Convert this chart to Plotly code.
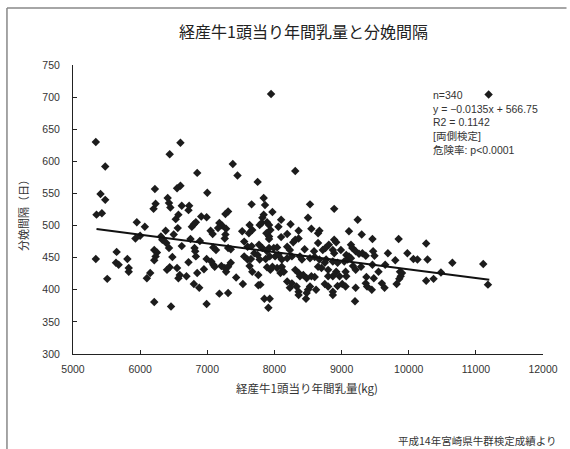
import plotly.graph_objects as go

# --- data ---
milk_kg = [
    5340, 6440, 6600, 5480, 5410, 5480, 5350, 5430, 5340, 5510, 5650, 5640, 5680, 5810, 5830, 5830,
    5950, 6070, 5930, 6000, 6100, 6150, 6220, 6230, 6200, 6210, 6250, 6230, 6210, 6210, 6310, 6330,
    6380, 6410, 6430, 6450, 6390, 6430, 6480, 6400, 6440, 6460, 6500, 6530, 6560, 6550, 6550,
    7380, 6850, 7450, 7750, 6600, 7000, 7840, 7860, 7660, 6620, 6730, 6720, 6570, 7310, 7270, 7840,
    7820, 6910, 6990, 6830, 6770, 6800, 7180, 7220, 7160, 7280, 7270, 7260, 7050, 7080, 7630, 7670,
    7620, 7780, 7810, 7890, 7880, 7920, 7520, 6750, 6890, 6810, 6820, 6620, 7090, 7130, 7310, 7350,
    7550, 7600, 7660, 7770, 7820, 7920, 6830, 6990, 7060, 7090, 7110, 7210, 7260, 7310, 7350, 7550,
    7600, 7650, 7700, 7750, 7780, 7870, 7930, 6720, 6950, 7630, 7670, 7890, 7940, 6590, 6570, 6690,
    6850, 7280, 7430, 7760, 6800, 6880, 7530, 7760, 7790, 7180, 7310, 6990, 7850, 7930, 7910,
    8310, 8530, 8890, 9240, 7970, 8500, 8100, 8060, 8240, 7920, 7940, 8550, 8360, 8670, 8650, 8190,
    8100, 9110, 9300, 7920, 8360, 8310, 8280, 8890, 8920, 8650, 8810, 8760, 8720, 9140, 9160, 8040,
    7990, 8190, 8230, 8450, 8590, 8870, 8890, 8990, 9070, 9110, 9210, 9260, 7890, 8010, 8060, 8110,
    8190, 8260, 8380, 8410, 8530, 8600, 8670, 8750, 8770, 8870, 8940, 9040, 9090, 9140, 7970, 8040,
    8110, 8090, 8140, 8310, 8360, 8380, 8430, 8480, 8550, 8600, 8650, 8700, 8800, 8800, 8870, 8920,
    8970, 9060, 9070, 9170, 9210, 9290, 8190, 8260, 8230, 8330, 8360, 8530, 8500, 8620, 8480, 8360,
    8750, 8800, 8870, 8870, 8940, 9010, 9060, 9210, 8470, 9200,
    9460, 9850, 10260, 9360, 9310, 9470, 9490, 9690, 9980, 9800, 10070, 10130, 10280, 10650, 9460,
    9650, 10480, 9870, 9900, 9880, 9860, 9370, 9480, 9550, 9360, 9380, 9600, 9640, 9820, 10260,
    10370, 9450, 11110, 11180, 11190, 7950,
]
interval_days = [
    630, 611, 629, 592, 549, 540, 517, 519, 448, 417, 459, 442, 439, 448, 434, 428,
    505, 498, 480, 484, 418, 426, 557, 534, 526, 462, 458, 452, 446, 381, 483, 478,
    492, 543, 535, 528, 473, 465, 451, 431, 435, 374, 486, 510, 496, 558, 434,
    596, 582, 578, 568, 562, 551, 543, 532, 533, 531, 531, 524, 517, 522, 518, 517,
    512, 514, 513, 505, 498, 502, 504, 500, 496, 495, 486, 480, 492, 487, 501, 493,
    488, 501, 504, 505, 488, 483, 491, 479, 476, 465, 460, 468, 466, 462, 465, 463,
    475, 467, 468, 470, 465, 465, 452, 448, 444, 439, 436, 437, 434, 436, 442, 452,
    447, 448, 457, 454, 447, 448, 452, 443, 432, 437, 428, 435, 431, 423, 418, 421,
    426, 428, 419, 423, 409, 403, 409, 407, 408, 394, 395, 378, 386, 386, 372,
    585, 533, 526, 509, 521, 512, 509, 498, 502, 501, 493, 495, 492, 492, 488, 487,
    482, 491, 486, 479, 480, 478, 474, 478, 474, 473, 470, 465, 462, 470, 465, 466,
    465, 467, 462, 463, 460, 462, 457, 462, 454, 452, 460, 456, 460, 452, 454, 447,
    449, 452, 452, 447, 449, 451, 447, 442, 447, 444, 442, 444, 447, 449, 436, 434,
    436, 426, 428, 431, 426, 421, 423, 418, 421, 420, 436, 434, 431, 421, 421, 428,
    421, 428, 421, 437, 431, 436, 413, 410, 403, 405, 397, 405, 400, 400, 395, 392,
    409, 405, 397, 392, 406, 409, 405, 403, 386, 382,
    479, 479, 472, 453, 457, 460, 453, 457, 457, 446, 448, 447, 447, 442, 439,
    439, 427, 428, 426, 421, 417, 420, 418, 428, 410, 405, 410, 403, 409, 414,
    417, 400, 440, 408, 704, 705,
]

# regression shown on the chart
SLOPE = -0.0135
INTERCEPT = 566.75
line_x = [5350, 11200]
line_y = [SLOPE * v + INTERCEPT for v in line_x]

x_ticks = [5000, 6000, 7000, 8000, 9000, 10000, 11000, 12000]
x_tick_labels = ["5000", "6000", "7000", "8000", "9000", "10000", "11000", "12000"]
y_ticks = [300, 350, 400, 450, 500, 550, 600, 650, 700, 750]
y_tick_labels = ["300", "350", "400", "450", "500", "550", "600", "650", "700", "750"]

title_text = "経産牛1頭当り年間乳量と分娩間隔"
x_title = "経産牛1頭当り年間乳量(kg)"
y_title = "分娩間隔（日）"
stats_text = "n=340<br>y = −0.0135x + 566.75<br>R2 = 0.1142<br>[両側検定]<br>危険率: p<0.0001"
source_text = "平成14年宮崎県牛群検定成績より"

FONT = "Liberation Sans, Arial, Noto Sans CJK JP, sans-serif"
JP = "Noto Sans CJK JP, sans-serif"

fig = go.Figure()
fig.add_trace(go.Scatter(
    x=milk_kg, y=interval_days, mode="markers",
    marker=dict(symbol="diamond", size=6.5, color="#1c1c1c"),
    showlegend=False, hoverinfo="x+y",
))
fig.add_trace(go.Scatter(
    x=line_x, y=line_y, mode="lines",
    line=dict(color="#111111", width=2),
    showlegend=False, hoverinfo="skip",
))

axis_common = dict(
    showgrid=False, zeroline=False, showline=True, linecolor="#222", linewidth=1,
    ticks="inside", ticklen=4, tickcolor="#222",
    tickfont=dict(family=FONT, size=10.5, color="#333"),
)
fig.update_xaxes(range=[5000, 12000], tickvals=x_ticks, ticktext=x_tick_labels,
                 ticklabelstandoff=5, **axis_common)
fig.update_yaxes(range=[300, 750], tickvals=y_ticks, ticktext=y_tick_labels,
                 ticklabelstandoff=10, **axis_common)

annotations = [
    dict(text=title_text, x=0.4906, y=1.1176, xref="paper", yref="paper",
         xanchor="center", yanchor="middle", showarrow=False,
         font=dict(family=JP, size=16, color="#222")),
    dict(text=x_title, x=0.497, y=-0.118, xref="paper", yref="paper",
         xanchor="center", yanchor="middle", showarrow=False,
         font=dict(family=JP, size=11.5, color="#333")),
    dict(text=y_title, x=-0.105, y=0.49, xref="paper", yref="paper",
         xanchor="center", yanchor="middle", textangle=-90, showarrow=False,
         font=dict(family=JP, size=11, color="#333")),
    dict(text=stats_text, x=0.762, y=0.925, xref="paper", yref="paper",
         xanchor="left", yanchor="top", align="left", showarrow=False,
         font=dict(family=FONT, size=10.5, color="#333")),
    dict(text=source_text, x=1.031, y=-0.298, xref="paper", yref="paper",
         xanchor="right", yanchor="middle", showarrow=False,
         font=dict(family=JP, size=10.5, color="#333")),
]

shapes = [
    dict(type="line", xref="paper", yref="paper", x0=-0.1405, x1=1.05, y0=1.197, y1=1.197,
         line=dict(color="#888", width=1.5)),
    dict(type="line", xref="paper", yref="paper", x0=-0.1405, x1=-0.1405, y0=1.197, y1=-0.35,
         line=dict(color="#888", width=1.5)),
]

fig.update_layout(
    width=570, height=449,
    margin=dict(l=73, r=20, t=65, b=95),
    paper_bgcolor="white", plot_bgcolor="white",
    annotations=annotations, shapes=shapes,
    font=dict(family=FONT),
)

fig.write_html("out.html", config={"displayModeBar": False},
               post_script="document.body.style.margin='0px';")
